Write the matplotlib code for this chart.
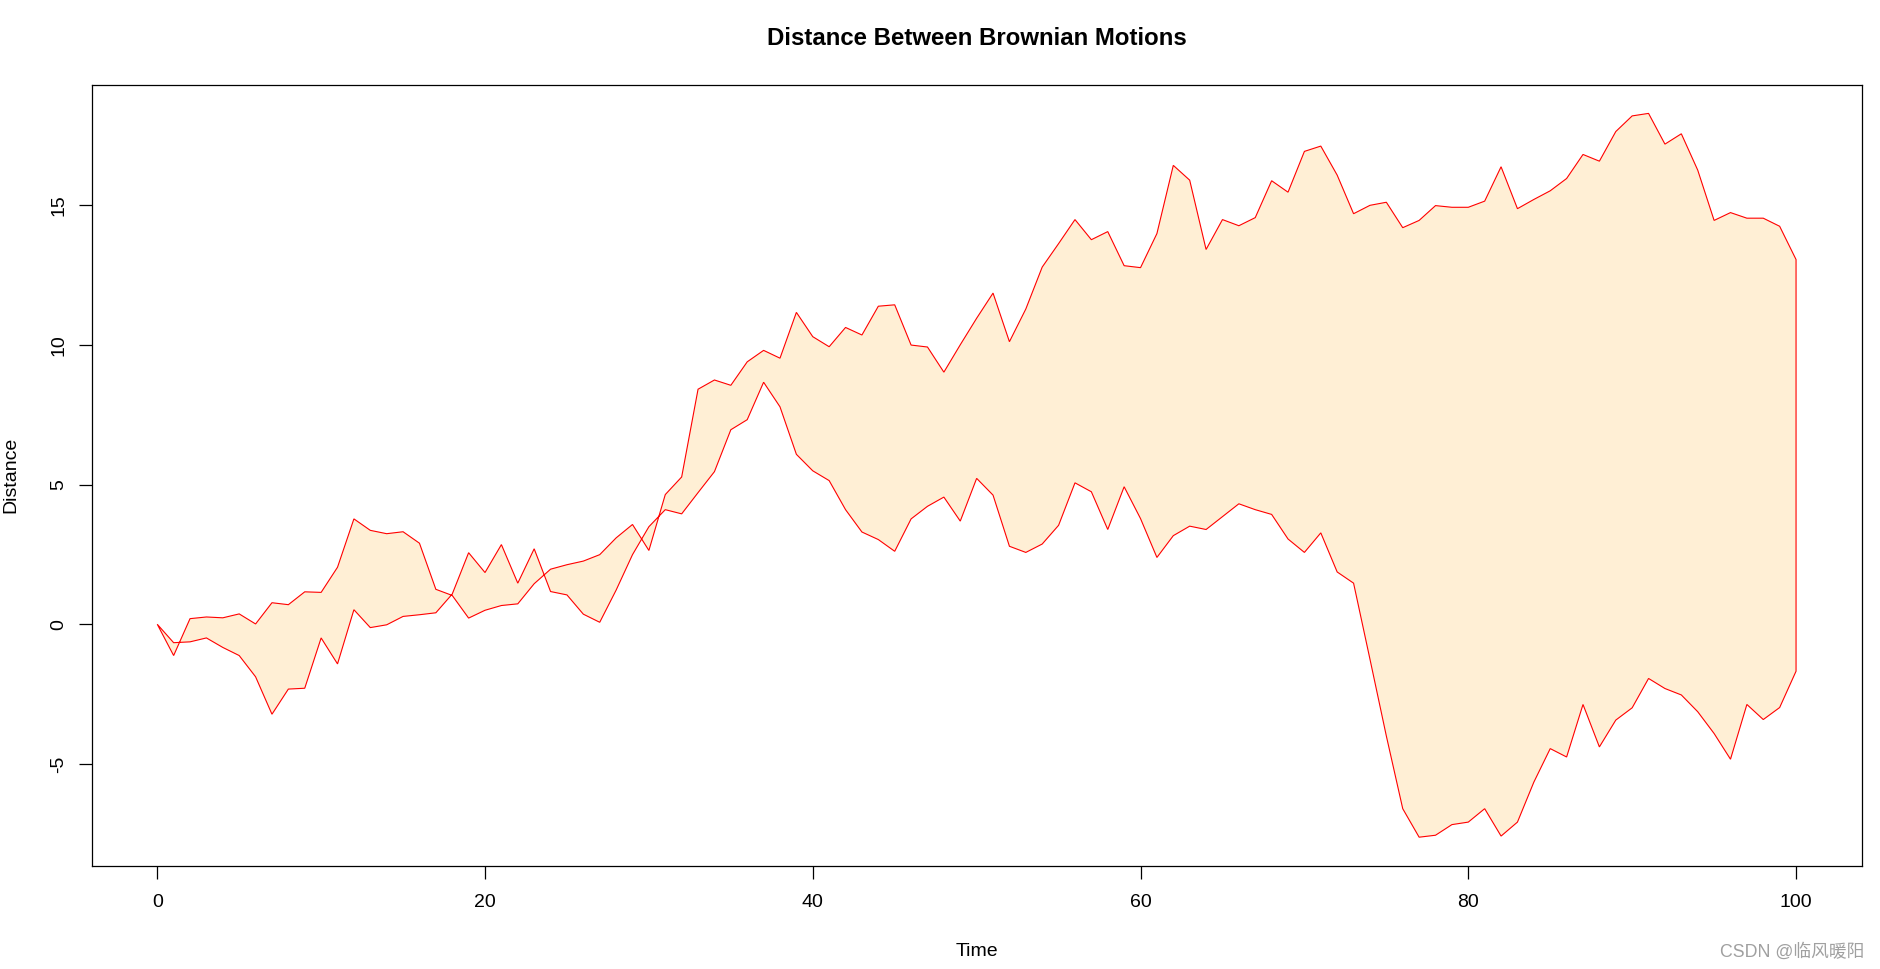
import matplotlib
matplotlib.use("Agg")
import matplotlib.pyplot as plt

# ---- data -------------------------------------------------------------
time = list(range(101))

motion_a = [
    0.00, -1.12, 0.20, 0.26, 0.23, 0.37, 0.01, 0.77, 0.70, 1.16,
    1.14, 2.04, 3.77, 3.36, 3.24, 3.31, 2.90, 1.25, 1.03, 0.22,
    0.50, 0.67, 0.73, 1.45, 1.97, 2.13, 2.26, 2.49, 3.09, 3.57,
    2.64, 4.64, 5.27, 8.41, 8.74, 8.55, 9.39, 9.80, 9.52, 11.16,
    10.29, 9.93, 10.62, 10.35, 11.38, 11.43, 9.99, 9.92, 9.02, 10.00,
    10.95, 11.85, 10.11, 11.28, 12.78, 13.62, 14.48, 13.76, 14.05, 12.83,
    12.76, 13.98, 16.42, 15.89, 13.41, 14.48, 14.26, 14.55, 15.87, 15.46,
    16.92, 17.11, 16.07, 14.69, 14.99, 15.10, 14.19, 14.45, 14.98, 14.92,
    14.92, 15.14, 16.37, 14.87, 15.20, 15.51, 15.95, 16.81, 16.57, 17.63,
    18.19, 18.28, 17.18, 17.55, 16.25, 14.45, 14.73, 14.53, 14.53, 14.24,
    13.05,
]

motion_b = [
    0.00, -0.66, -0.63, -0.49, -0.83, -1.12, -1.88, -3.22, -2.32, -2.29,
    -0.49, -1.42, 0.52, -0.12, -0.02, 0.28, 0.34, 0.41, 1.08, 2.56,
    1.85, 2.85, 1.47, 2.70, 1.17, 1.05, 0.36, 0.07, 1.22, 2.49,
    3.49, 4.10, 3.95, 4.71, 5.46, 6.96, 7.32, 8.66, 7.78, 6.08,
    5.49, 5.14, 4.10, 3.30, 3.03, 2.61, 3.77, 4.22, 4.55, 3.69,
    5.22, 4.62, 2.79, 2.57, 2.87, 3.54, 5.06, 4.74, 3.39, 4.92,
    3.78, 2.39, 3.17, 3.51, 3.39, 3.85, 4.31, 4.10, 3.93, 3.05,
    2.57, 3.27, 1.87, 1.47, -1.25, -4.00, -6.60, -7.62, -7.55, -7.17,
    -7.08, -6.60, -7.58, -7.08, -5.65, -4.45, -4.75, -2.87, -4.39, -3.43,
    -2.99, -1.94, -2.30, -2.53, -3.13, -3.91, -4.83, -2.87, -3.41, -2.98,
    -1.68,
]

x_ticks = [0, 20, 40, 60, 80, 100]
y_ticks = [-5, 0, 5, 10, 15]

title = "Distance Between Brownian Motions"
x_label = "Time"
y_label = "Distance"
watermark = "CSDN @临风暖阳"

# ---- figure -----------------------------------------------------------
W, H, DPI = 1880, 969, 100
plt.rcParams["font.family"] = ["Liberation Sans", "Noto Sans CJK SC", "DejaVu Sans"]

fig = plt.figure(figsize=(W / DPI, H / DPI), dpi=DPI)
fig.patch.set_facecolor("white")

left, right, top, bottom = 91.7, 1861.6, 84.6, 865.7
ax = fig.add_axes([left / W, 1 - bottom / H, (right - left) / W, (bottom - top) / H])

poly_x = time + time[::-1]
poly_y = motion_a + motion_b[::-1]
ax.fill(poly_x, poly_y, facecolor="#FFEFD5", edgecolor="red", linewidth=0.8)

ax.set_xlim(-4, 104)
ax.set_ylim(-8.64, 19.31)
ax.set_xticks(x_ticks)
ax.set_yticks(y_ticks)
ax.set_xticklabels([str(v) for v in x_ticks])
ax.set_yticklabels([str(v) for v in y_ticks])

for sp in ax.spines.values():
    sp.set_linewidth(0.9)
    sp.set_color("black")

ax.tick_params(axis="both", direction="out", length=9.1, width=0.9,
               labelsize=14, colors="black")
ax.tick_params(axis="x", pad=11.5)
ax.tick_params(axis="y", pad=11.3)
for lab in ax.get_yticklabels():
    lab.set_rotation(90)
    lab.set_rotation_mode("anchor")
    lab.set_ha("center")
    lab.set_va("baseline")

cx = (left + right) / 2 / W
cy = 1 - (top + bottom) / 2 / H
fig.text(cx, 1 - 45 / H, title, ha="center", va="baseline",
         fontsize=17.3, fontweight="bold")
fig.text(cx, 1 - 956 / H, x_label, ha="center", va="baseline", fontsize=14)
fig.text(15 / W, cy, y_label, ha="center", va="baseline", rotation=90,
         rotation_mode="anchor", fontsize=14)
fig.text(1864 / W, 1 - 957 / H, watermark, ha="right", va="baseline",
         fontsize=12.8, color="#a0a0a0")

fig.savefig("out.png", dpi=DPI)
